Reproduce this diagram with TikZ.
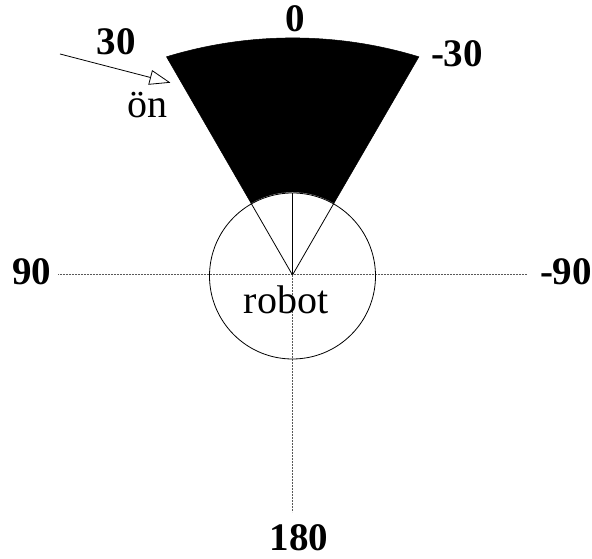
\documentclass[tikz,border=0pt]{standalone}
\usepackage{fontspec}
\setmainfont{Liberation Serif}
\usetikzlibrary{arrows.meta}
\begin{document}
\begin{tikzpicture}[x=1pt,y=1pt,
  anglabel/.style={inner sep=0pt, font=\fontsize{39}{41}\selectfont\bfseries},
  plainlabel/.style={inner sep=0pt, font=\fontsize{40}{44}\selectfont},
  axisline/.style={gray!70!black, line width=1pt, dash pattern=on 0.9pt off 0.6pt},
  thinline/.style={black, line width=0.8pt},
  sectorfill/.style={fill=black, draw=black, line width=0.5pt}]
\useasboundingbox (0,0) rectangle (592,559);
% centre of the robot
\coordinate (C) at (292.5,284);
% sector corners
\coordinate (inL) at (251,355.9);
\coordinate (inR) at (334,355.9);
\coordinate (outL) at (166.5,502.2);
\coordinate (outR) at (418.9,502.2);
% black sector
\path[sectorfill] (inL) -- (outL) arc[start angle=107, end angle=73, radius=431.6pt]
  -- (inR) arc[start angle=60, end angle=120, radius=83pt] -- cycle;
% axes
\coordinate (axL) at (58,284);
\coordinate (axR) at (527,284);
\coordinate (axB) at (292.5,47);
\draw[axisline] (axL) -- (axR);
\draw[axisline] (C) -- (axB);
% robot circle
\node[circle, draw, thinline, minimum size=166pt, inner sep=0pt] (robot) at (292.5,283) {};
\draw[thinline] (C) -- (robot.north);
\draw[thinline] (C) -- (inL);
\draw[thinline] (C) -- (inR);
% labels
\node[anglabel] (l0) at (295,540) {0};
\node[anglabel] (l30) at (116,517) {30};
\node[anglabel] (lm30) at (457,505) {-30};
\node[anglabel] (l90) at (32,287) {90};
\node[anglabel] (lm90) at (566,287) {-90};
\node[anglabel] (l180) at (299,21) {180};
\node[plainlabel] (rl) at (286,259) {robot};
\node[plainlabel] (on) at (147.5,454) {ön};
% arrow
\coordinate (arrS) at (60,505);
\coordinate (arrE) at (170.5,476.3);
\draw[thinline, -{Triangle[open, length=21pt, width=15pt, line width=0.8pt]}] (arrS) -- (arrE);
\end{tikzpicture}
\end{document}
